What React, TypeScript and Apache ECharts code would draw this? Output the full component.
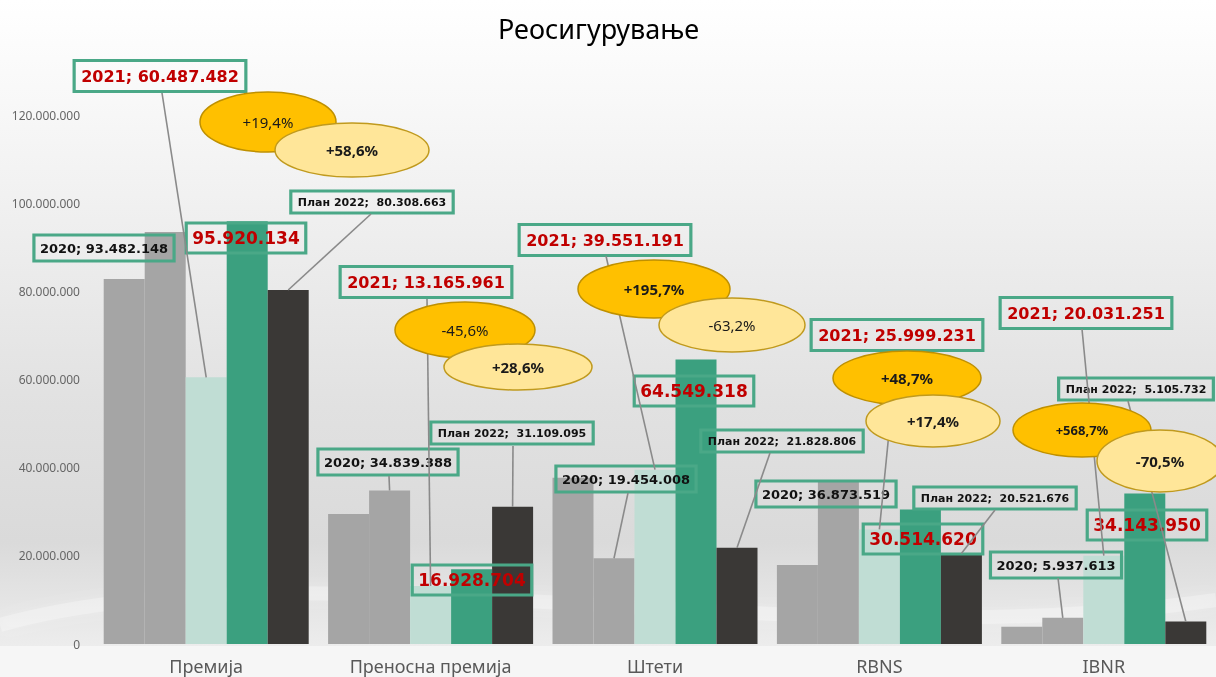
import React, { useEffect, useRef } from "react";
import * as echarts from "echarts";

// ---------- data ----------
const categories = ["Премија", "Преносна премија", "Штети", "RBNS", "IBNR"];
const values2019 = [82800000, 29500000, 37700000, 17900000, 3900000];
const values2020 = [93482148, 34839388, 19454008, 36873519, 5937613];
const values2021 = [60487482, 13165961, 39551191, 25999231, 20031251];
const values2022 = [95920134, 16928704, 64549318, 30514620, 34143950];
const plan2022 = [80308663, 31109095, 21828806, 20521676, 5105732];
const changeVsPlan = ["+19,4%", "-45,6%", "+195,7%", "+48,7%", "+568,7%"];
const changeVs2021 = ["+58,6%", "+28,6%", "-63,2%", "+17,4%", "-70,5%"];
const yMax = 120000000;
const yStep = 20000000;

// ---------- layout (positions / styles) ----------
const W = 1216;
const H = 677;
const GRID = { left: 94, right: 0, top: 115, bottom: 33 };
const BAR_W = 41;

// label box centres per series index (1..4) and category
const LABEL_POS: Record<number, [number, number][]> = {
  1: [[104, 248], [388, 462], [626, 479], [826, 494], [1056, 565]],
  2: [[160, 76], [426, 282], [605, 240], [897, 335], [1086, 313]],
  3: [[246, 238], [472, 580], [694, 391], [923, 539], [1147, 525]],
  4: [[372, 202], [512, 433], [782, 441], [995, 498], [1136, 389]],
};
// leader line start points (label side)
const LINE_FROM: Record<number, ([number, number] | null)[]> = {
  1: [null, [389, 476], [628, 493], null, [1058, 578]],
  2: [[162, 93], [427, 299], [606, 256], [897, 352], [1082, 329]],
  4: [[371, 214], [513, 446], [770, 453], [995, 510], [1128, 401]],
};
const GOLD_ELL: [number, number, number, number][] = [
  [268, 122, 68, 30], [465, 330, 70, 28], [654, 289, 76, 29], [907, 378, 74, 27], [1082, 430, 69, 27],
];
const LIGHT_ELL: [number, number, number, number][] = [
  [352, 150, 77, 27], [518, 367, 74, 23], [732, 325, 73, 27], [933, 421, 67, 26], [1160, 461, 63, 31],
];
const GOLD_BOLD = [false, false, true, true, true];
const LIGHT_BOLD = [true, true, false, true, true];
const GOLD_SIZE = [15, 15, 15, 15, 13];

const fmt = (n: number) => String(Math.round(n)).replace(/\B(?=(\d{3})+(?!\d))/g, ".");

const LABEL_FONT = "DejaVu Sans";
const BORDER = "#4AA887";
const RED = "#C00000";

function labelLayoutFor(seriesIdx: number) {
  return (p: any) => {
    const pos = LABEL_POS[seriesIdx][p.dataIndex];
    return { x: pos[0], y: pos[1], align: "center", verticalAlign: "middle" };
  };
}

export default function App() {
  const ref = useRef<HTMLDivElement>(null);
  useEffect(() => {
    if (!ref.current) return;
    const chart = echarts.init(ref.current, undefined, { renderer: "svg" });
    const boxLabel = (size: number, color: string, padV: number, padH: number, formatter: any) => ({
      show: true,
      position: "top",
      formatter,
      fontFamily: LABEL_FONT,
      fontWeight: "bold",
      fontSize: size,
      color,
      borderColor: BORDER,
      borderWidth: 1.6,
      padding: [padV, padH, padV - 1, padH],
      backgroundColor: "transparent",
    });
    const option: any = {
      animation: false,
      title: {
        text: "Реосигурување",
        left: 493,
        top: 10,
        textStyle: { fontFamily: "Noto Sans", fontSize: 27, fontWeight: "normal", color: "#000" },
      },
      grid: GRID,
      xAxis: {
        type: "category",
        data: categories,
        axisLine: { show: false },
        axisTick: { show: false },
        axisLabel: { color: "#595959", fontSize: 18, fontFamily: "Noto Sans", margin: 13 },
      },
      yAxis: {
        type: "value",
        min: 0,
        max: yMax,
        interval: yStep,
        axisLine: { show: false },
        axisTick: { show: false },
        splitLine: { show: false },
        axisLabel: { color: "#666", fontSize: 12, fontFamily: "Noto Sans", margin: 14, formatter: (v: number) => fmt(v) },
      },
      series: [
        { name: "2019", type: "bar", data: values2019, barWidth: BAR_W, barGap: "0%", itemStyle: { color: "#A5A5A5" } },
        {
          name: "2020", type: "bar", data: values2020, barWidth: BAR_W, barGap: "0%", itemStyle: { color: "#A5A5A5" },
          label: boxLabel(13, "#111", 7, 6, (p: any) => "2020; " + fmt(p.value)),
          labelLayout: labelLayoutFor(1),
        },
        {
          name: "2021", type: "bar", data: values2021, barWidth: BAR_W, barGap: "0%", itemStyle: { color: "#C0DDD4" },
          label: boxLabel(16, RED, 8, 7, (p: any) => "2021; " + fmt(p.value)),
          labelLayout: labelLayoutFor(2),
        },
        {
          name: "2022", type: "bar", data: values2022, barWidth: BAR_W, barGap: "0%", itemStyle: { color: "#3BA07F" },
          label: boxLabel(17, RED, 7, 6, (p: any) => fmt(p.value)),
          labelLayout: labelLayoutFor(3),
        },
        {
          name: "План 2022", type: "bar", data: plan2022, barWidth: BAR_W, barGap: "0%", itemStyle: { color: "#3A3836" },
          label: boxLabel(11, "#111", 6, 7, (p: any) => "План 2022;  " + fmt(p.value)),
          labelLayout: labelLayoutFor(4),
        },
      ],
    };
    chart.setOption(option);

    const seriesVals: Record<number, number[]> = { 1: values2020, 2: values2021, 3: values2022, 4: plan2022 };
    const barTop = (ci: number, s: number): [number, number] => {
      const p = chart.convertToPixel({ gridIndex: 0 } as any, [ci, seriesVals[s][ci]]) as number[];
      return [p[0] + (s - 2) * BAR_W, p[1]];
    };

    const elements: any[] = [];
    elements.push({
      type: "rect",
      z: -100,
      silent: true,
      shape: { x: 0, y: 0, width: W, height: H },
      style: {
        fill: new echarts.graphic.LinearGradient(0, 0, 0, 1, [
          { offset: 0, color: "#FFFFFF" },
          { offset: 0.15, color: "#F8F8F8" },
          { offset: 0.6, color: "#E1E1E1" },
          { offset: 0.8, color: "#DADADA" },
          { offset: 0.9, color: "#E6E6E6" },
          { offset: 1, color: "#F2F2F2" },
        ]),
      },
    });
    elements.push({
      type: "rect",
      z: -99,
      silent: true,
      shape: { x: 0, y: H - GRID.bottom + 2, width: W, height: GRID.bottom },
      style: { fill: "#F6F6F6" },
    });
    // subtle swoosh highlight
    elements.push({
      type: "bezierCurve",
      z: -98,
      silent: true,
      shape: { x1: 0, y1: 625, x2: 1216, y2: 600, cpx1: 300, cpy1: 540, cpx2: 800, cpy2: 660 },
      style: { stroke: "rgba(255,255,255,0.28)", lineWidth: 14, fill: "none", shadowBlur: 16, shadowColor: "rgba(255,255,255,0.6)" },
    });

    // leader lines
    [1, 2, 4].forEach((s) => {
      LINE_FROM[s].forEach((from, ci) => {
        if (!from) return;
        const to = barTop(ci, s);
        elements.push({
          type: "line",
          z: 5,
          silent: true,
          shape: { x1: from[0], y1: from[1], x2: to[0], y2: to[1] },
          style: { stroke: "#8A8A8A", lineWidth: 1.6 },
        });
      });
    });

    // ellipses
    categories.forEach((_, ci) => {
      const g = GOLD_ELL[ci];
      const l = LIGHT_ELL[ci];
      elements.push({
        type: "ellipse",
        z: 20,
        shape: { cx: g[0], cy: g[1], rx: g[2], ry: g[3] },
        style: { fill: "#FFC000", stroke: "#BF9000", lineWidth: 1.5 },
      });
      elements.push({
        type: "text",
        z: 21,
        x: g[0],
        y: g[1],
        style: {
          text: changeVsPlan[ci],
          align: "center",
          verticalAlign: "middle",
          fontFamily: "Noto Sans",
          fontSize: GOLD_SIZE[ci],
          fontWeight: GOLD_BOLD[ci] ? "bold" : "normal",
          fill: "#1a1a1a",
        },
      });
      elements.push({
        type: "ellipse",
        z: 22,
        shape: { cx: l[0], cy: l[1], rx: l[2], ry: l[3] },
        style: { fill: "#FFE699", stroke: "#C09A1E", lineWidth: 1.5 },
      });
      elements.push({
        type: "text",
        z: 23,
        x: l[0],
        y: l[1],
        style: {
          text: changeVs2021[ci],
          align: "center",
          verticalAlign: "middle",
          fontFamily: "Noto Sans",
          fontSize: 15,
          fontWeight: LIGHT_BOLD[ci] ? "bold" : "normal",
          fill: "#1a1a1a",
        },
      });
    });

    chart.setOption({ graphic: { elements } });
    return () => chart.dispose();
  }, []);
  return <div ref={ref} style={{ position: "fixed", left: 0, top: 0, width: W, height: H }} />;
}
